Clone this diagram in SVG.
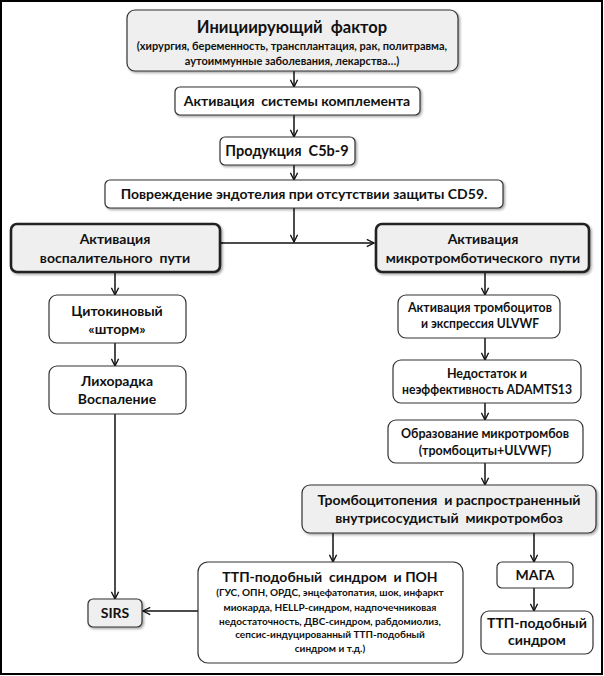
<svg xmlns="http://www.w3.org/2000/svg" width="604" height="676" viewBox="0 0 604 676" xml:space="preserve">
<defs>
<style>
.box{fill:#fff;stroke:#333;stroke-width:1.2}
.gbox{fill:#efefef;stroke:#333;stroke-width:1.2}
.tbox{fill:#efefef;stroke:#222;stroke-width:2.6}
.t{font-family:Lato,"Open Sans",sans-serif;font-weight:bold;fill:#111;text-anchor:middle;white-space:pre}
.s14{font-size:14px}
.s13{font-size:13.5px}
.s12{font-size:12.5px}
.s10{font-size:10px}
.s11{font-size:11px}
.s16{font-size:16.5px}
.ln{stroke:#111;stroke-width:1.5;fill:none}
</style>
<marker id="ah" viewBox="0 0 10 10" refX="9" refY="5" markerWidth="9" markerHeight="9" orient="auto" markerUnits="userSpaceOnUse">
<path d="M1,1 L9,5 L1,9" fill="none" stroke="#111" stroke-width="1.5"/>
</marker>
<filter id="sh" x="-5%" y="-10%" width="115%" height="130%">
<feDropShadow dx="1.5" dy="1.5" stdDeviation="1" flood-color="#000" flood-opacity="0.35"/>
</filter>
</defs>
<rect x="1" y="1" width="601" height="673" fill="#fff" stroke="#000" stroke-width="2"/>

<g id="connectors">
<line class="ln" x1="294" y1="71" x2="294" y2="87" marker-end="url(#ah)"/>
<line class="ln" x1="294" y1="115" x2="294" y2="137" marker-end="url(#ah)"/>
<line class="ln" x1="294" y1="165" x2="294" y2="180" marker-end="url(#ah)"/>
<line class="ln" x1="294" y1="208" x2="294" y2="242" marker-end="url(#ah)"/>
<line class="ln" x1="222" y1="243" x2="374" y2="243" marker-start="url(#ah)" marker-end="url(#ah)"/>
<line class="ln" x1="115" y1="272" x2="115" y2="295" marker-end="url(#ah)"/>
<line class="ln" x1="115" y1="343" x2="115" y2="366" marker-end="url(#ah)"/>
<line class="ln" x1="115" y1="414" x2="115" y2="599" marker-end="url(#ah)"/>
<line class="ln" x1="485" y1="272" x2="485" y2="295" marker-end="url(#ah)"/>
<line class="ln" x1="485" y1="338" x2="485" y2="360" marker-end="url(#ah)"/>
<line class="ln" x1="485" y1="403" x2="485" y2="420" marker-end="url(#ah)"/>
<line class="ln" x1="485" y1="463" x2="485" y2="485" marker-end="url(#ah)"/>
<line class="ln" x1="333" y1="533" x2="333" y2="562" marker-end="url(#ah)"/>
<line class="ln" x1="534" y1="533" x2="534" y2="562" marker-end="url(#ah)"/>
<line class="ln" x1="534" y1="588" x2="534" y2="611" marker-end="url(#ah)"/>
<line class="ln" x1="198" y1="611" x2="143" y2="611" marker-end="url(#ah)"/>
</g>

<g id="n-init">
<rect class="gbox" x="127" y="10" width="331" height="61" rx="8" filter="url(#sh)"/>
<text class="t s16" x="292" y="33">Инициирующий  фактор</text>
<text class="t s11" x="292" y="50">(хирургия, беременность, трансплантация, рак, политравма,</text>
<text class="t s11" x="292" y="65">аутоиммунные заболевания, лекарства…)</text>
</g>

<g id="n-compl">
<rect class="box" x="175" y="87" width="245" height="28" rx="5" filter="url(#sh)"/>
<text class="t s14" x="297" y="106">Активация  системы комплемента</text>
</g>

<g id="n-c5b9">
<rect class="box" x="220" y="137" width="135" height="28" rx="5" filter="url(#sh)"/>
<text class="t" style="font-size:14.5px" x="287" y="156">Продукция  C5b-9</text>
</g>

<g id="n-endo">
<rect class="box" x="105" y="180" width="398" height="28" rx="5" filter="url(#sh)"/>
<text class="t s14" x="304" y="199">Повреждение эндотелия при отсутствии защиты CD59.</text>
</g>

<g id="n-infl">
<rect class="tbox" x="11" y="224" width="209" height="48" rx="6" filter="url(#sh)"/>
<text class="t s14" x="115" y="244">Активация</text>
<text class="t s14" x="115" y="263">воспалительного  пути</text>
</g>

<g id="n-micro">
<rect class="tbox" x="376" y="224" width="213" height="48" rx="6" filter="url(#sh)"/>
<text class="t s14" x="483" y="244">Активация</text>
<text class="t s14" x="483" y="263">микротромботического  пути</text>
</g>

<g id="n-cyto">
<rect class="box" x="49" y="295" width="137" height="48" rx="8"/>
<text class="t s14" x="117" y="316">Цитокиновый</text>
<text class="t s14" x="117" y="334">«шторм»</text>
</g>

<g id="n-fever">
<rect class="box" x="49" y="366" width="137" height="48" rx="8"/>
<text class="t s14" x="117" y="386">Лихорадка</text>
<text class="t s14" x="117" y="404">Воспаление</text>
</g>

<g id="n-sirs">
<rect class="gbox" x="88" y="599" width="54" height="28" rx="5" filter="url(#sh)"/>
<text class="t s14" x="115" y="618">SIRS</text>
</g>

<g id="n-plt">
<rect class="box" x="398" y="295" width="162" height="43" rx="8"/>
<text class="t s12" x="480" y="312" textLength="144" lengthAdjust="spacingAndGlyphs">Активация тромбоцитов</text>
<text class="t s12" x="480" y="328" textLength="118" lengthAdjust="spacingAndGlyphs">и экспрессия ULVWF</text>
</g>

<g id="n-adam">
<rect class="box" x="393" y="360" width="188" height="43" rx="8"/>
<text class="t s12" x="487" y="378">Недостаток и</text>
<text class="t s12" x="487" y="394" textLength="170" lengthAdjust="spacingAndGlyphs">неэффективность ADAMTS13</text>
</g>

<g id="n-thromb">
<rect class="box" x="388" y="420" width="195" height="43" rx="8"/>
<text class="t s12" x="485" y="438">Образование микротромбов</text>
<text class="t s12" x="485" y="455">(тромбоциты+ULVWF)</text>
</g>

<g id="n-tcp">
<rect class="gbox" x="302" y="485" width="294" height="48" rx="8" filter="url(#sh)"/>
<text class="t s14" x="449" y="505">Тромбоцитопения  и распространенный</text>
<text class="t s14" x="449" y="523">внутрисосудистый  микротромбоз</text>
</g>

<g id="n-ttp-pon">
<rect class="box" x="198" y="562" width="265" height="101" rx="10"/>
<text class="t s14" x="330" y="582">ТТП-подобный  синдром  и ПОН</text>
<text class="t s10" x="330" y="596">(ГУС, ОПН, ОРДС, энцефатопатия, шок, инфаркт</text>
<text class="t s10" x="330" y="611">миокарда, HELLP-синдром, надпочечниковая</text>
<text class="t s10" x="330" y="625">недостаточность, ДВС-синдром, рабдомиолиз,</text>
<text class="t s10" x="330" y="638">сепсис-индуцированный ТТП-подобный</text>
<text class="t s10" x="330" y="652">синдром и т.д.)</text>
</g>

<g id="n-maga">
<rect class="box" x="497" y="562" width="76" height="26" rx="5"/>
<text class="t s14" x="535" y="580">МАГА</text>
</g>

<g id="n-ttp">
<rect class="box" x="481" y="611" width="112" height="43" rx="8"/>
<text class="t s14" x="537" y="628">ТТП-подобный</text>
<text class="t s14" x="537" y="645">синдром</text>
</g>
</svg>
